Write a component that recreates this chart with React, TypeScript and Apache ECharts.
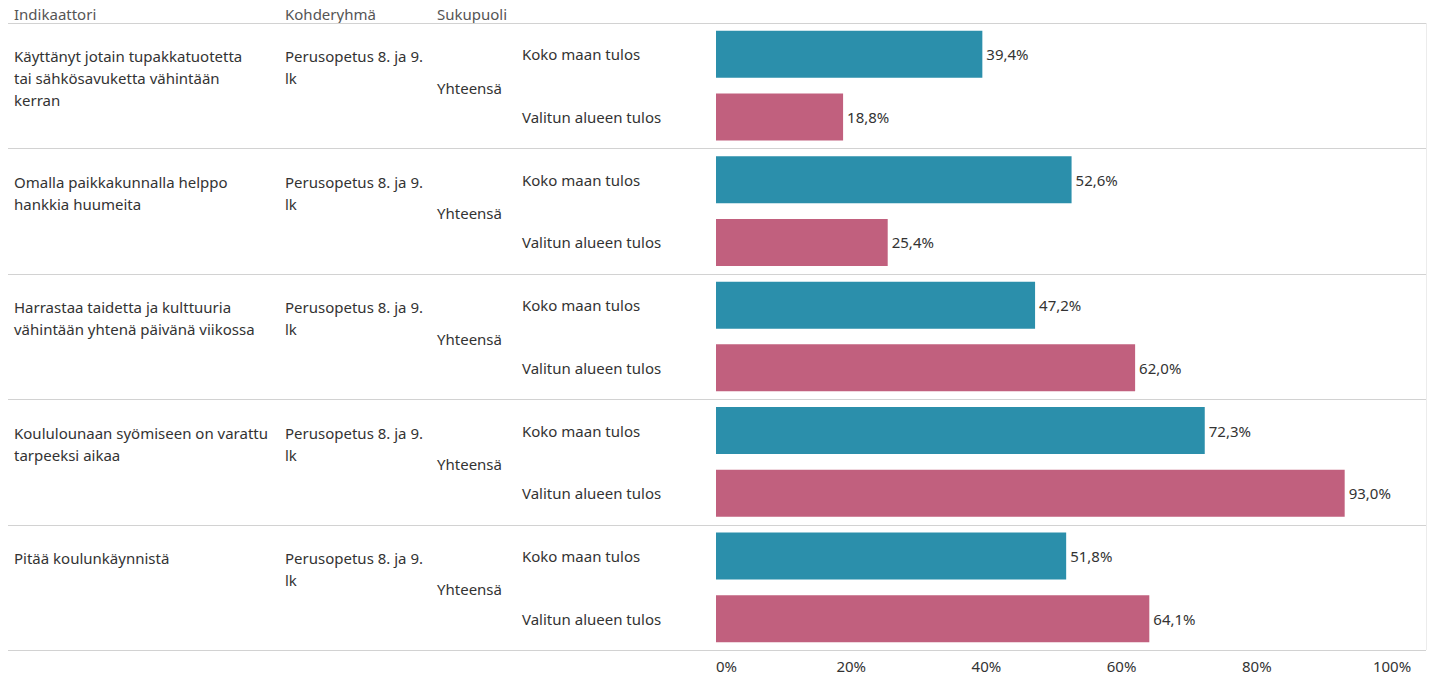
import React, { useEffect, useRef } from "react";
import * as echarts from "echarts";

const headers = ["Indikaattori", "Kohderyhmä", "Sukupuoli"];
const indicators = [
  "Käyttänyt jotain tupakkatuotetta\ntai sähkösavuketta vähintään\nkerran",
  "Omalla paikkakunnalla helppo\nhankkia huumeita",
  "Harrastaa taidetta ja kulttuuria\nvähintään yhtenä päivänä viikossa",
  "Koululounaan syömiseen on varattu\ntarpeeksi aikaa",
  "Pitää koulunkäynnistä",
];
const targetGroup = "Perusopetus 8. ja 9.\nlk";
const gender = "Yhteensä";
const seriesNames = ["Koko maan tulos", "Valitun alueen tulos"];
const nationalValues = [39.4, 52.6, 47.2, 72.3, 51.8];
const regionalValues = [18.8, 25.4, 62.0, 93.0, 64.1];
const xTicks = [0, 20, 40, 60, 80, 100];

const BLUE = "#2b8fab";
const PINK = "#c1607e";
const FONT = "Noto Sans";
const TEXT = "#333333";
const FS = 15;

export default function App() {
  const ref = useRef<HTMLDivElement>(null);
  useEffect(() => {
    if (!ref.current) return;
    const chart = echarts.init(ref.current, undefined, { renderer: "svg" });
    const cats: string[] = [];
    const data: any[] = [];
    indicators.forEach((ind, i) => {
      cats.push(i + "|0");
      cats.push(i + "|1");
      data.push({ value: nationalValues[i], itemStyle: { color: BLUE } });
      data.push({ value: regionalValues[i], itemStyle: { color: PINK } });
    });
    chart.setOption({
      animation: false,
      textStyle: { fontFamily: FONT },
      grid: { left: 716, right: 42, top: 23, bottom: 26, containLabel: false },
      xAxis: {
        type: "value",
        min: xTicks[0],
        max: xTicks[xTicks.length - 1],
        interval: 20,
        axisLine: { show: false },
        axisTick: { show: false },
        splitLine: { show: false },
        axisLabel: {
          formatter: "{value}%",
          color: TEXT,
          fontSize: FS,
          fontFamily: FONT,
          margin: 8,
          alignMinLabel: "left",
        },
      },
      yAxis: {
        type: "category",
        inverse: true,
        data: cats,
        axisLine: { show: false },
        axisTick: { show: false },
        splitLine: { show: false },
        axisLabel: {
          align: "left",
          margin: 194,
          color: TEXT,
          fontSize: FS,
          fontFamily: FONT,
          formatter: (v: string) => seriesNames[Number(v.split("|")[1])],
        },
      },
      series: [
        {
          type: "bar",
          data,
          barWidth: 47,
          label: {
            show: true,
            position: "right",
            distance: 4,
            color: TEXT,
            fontSize: FS,
            fontFamily: FONT,
            formatter: (p: any) => p.value.toFixed(1).replace(".", ",") + "%",
          },
        },
      ],
    });

    const yOf = (i: number) => chart.convertToPixel({ yAxisIndex: 0 }, cats[i]) as number;
    const step = yOf(1) - yOf(0);
    const top = yOf(0) - step / 2;
    const bottom = yOf(cats.length - 1) + step / 2;
    const lineColor = "#d2d2d2";
    const graphics: any[] = [];
    const headerX = [14, 285, 437];
    headers.forEach((h, k) => {
      graphics.push({
        type: "text",
        x: headerX[k],
        y: 14,
        style: { text: h, fill: "#555555", font: `${FS}px "${FONT}"`, verticalAlign: "middle" },
      });
    });
    for (let g = 0; g <= indicators.length; g++) {
      const y = Math.round(top + g * 2 * step) + 0.5;
      graphics.push({
        type: "line",
        shape: { x1: 8, y1: y, x2: 1426, y2: y },
        style: { stroke: lineColor, lineWidth: 1 },
      });
    }
    graphics.push({
      type: "line",
      shape: { x1: 1426.5, y1: top, x2: 1426.5, y2: bottom },
      style: { stroke: "#ececec", lineWidth: 1 },
    });
    indicators.forEach((ind, i) => {
      const y0 = yOf(2 * i);
      const y1 = yOf(2 * i + 1);
      graphics.push({
        type: "text",
        x: 14,
        y: y0 - 9,
        style: { text: ind, fill: TEXT, font: `${FS}px "${FONT}"`, lineHeight: 22, verticalAlign: "top" },
      });
      graphics.push({
        type: "text",
        x: 285,
        y: y0 - 9,
        style: { text: targetGroup, fill: TEXT, font: `${FS}px "${FONT}"`, lineHeight: 22, verticalAlign: "top" },
      });
      graphics.push({
        type: "text",
        x: 437,
        y: (y0 + y1) / 2 + 2,
        style: { text: gender, fill: TEXT, font: `${FS}px "${FONT}"`, verticalAlign: "middle" },
      });
    });
    chart.setOption({ graphic: graphics });
    return () => chart.dispose();
  }, []);
  return (
    <div
      ref={ref}
      style={{ position: "fixed", left: 0, top: 0, width: 1434, height: 676, background: "#ffffff" }}
    />
  );
}
